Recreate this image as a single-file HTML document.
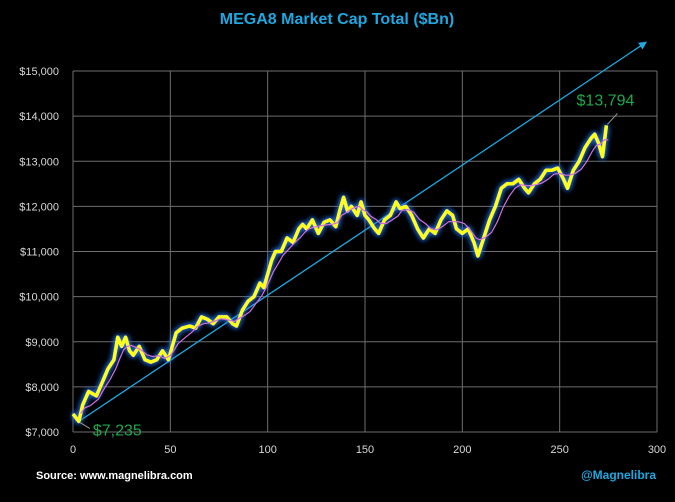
<!DOCTYPE html>
<html><head><meta charset="utf-8"><style>
body{margin:0;background:#000;width:675px;height:497px;overflow:hidden;font-family:"Liberation Sans",sans-serif}
</style></head><body>
<svg id="chart" width="675" height="497" xmlns="http://www.w3.org/2000/svg">
<defs>
<filter id="glow" x="-10%" y="-10%" width="120%" height="120%">
<feGaussianBlur in="SourceAlpha" stdDeviation="3" result="b"/>
<feFlood flood-color="#2a7bff" flood-opacity="0.95"/>
<feComposite in2="b" operator="in" result="g"/>
<feMerge><feMergeNode in="g"/><feMergeNode in="g"/><feMergeNode in="SourceGraphic"/></feMerge>
</filter>
<marker id="arrow" markerWidth="8" markerHeight="8" refX="6" refY="4" orient="auto" markerUnits="userSpaceOnUse">
<path d="M0,0 L8,4 L0,8 z" fill="#1ea7e0"/>
</marker>
</defs>
<text x="337" y="24" text-anchor="middle" fill="#1ea7e0" font-size="16" font-weight="bold">MEGA8 Market Cap Total ($Bn)</text>
<g id="grid"></g>
<g id="series"></g>
<text x="36" y="479" fill="#fff" font-size="11" font-weight="bold">Source: www.magnelibra.com</text>
<text x="656" y="479" text-anchor="end" fill="#1ea7e0" font-size="12" font-weight="bold">@Magnelibra</text>
</svg>
<script>
const xs=[0,3,5,8,12,15,18,21,23,25,27,29,31,34,37,40,43,46,49,51,53,56,60,63,66,69,72,75,79,82,84,87,90,93,96,98,100,102,104,107,110,113,116,118,120,123,126,129,132,135,137,139,141,143,146,148,150,152,155,157,160,163,166,168,171,174,177,180,183,186,189,192,195,197,200,203,206,208,211,214,217,220,223,226,229,232,234,237,240,243,246,249,252,254,257,260,263,266,268,270,272,274];
const vals=[7400,7235,7600,7900,7800,8100,8400,8600,9100,8900,9100,8800,8700,8900,8600,8550,8600,8800,8600,8900,9200,9300,9350,9300,9550,9500,9400,9550,9550,9400,9350,9700,9900,10000,10300,10200,10500,10800,11000,11000,11300,11200,11500,11600,11500,11700,11400,11650,11700,11550,11900,12200,11900,12000,11800,12100,11800,11700,11500,11400,11700,11800,12100,11950,12000,11800,11500,11300,11500,11400,11700,11900,11800,11500,11400,11500,11200,10900,11300,11700,12000,12400,12500,12500,12600,12400,12300,12500,12600,12800,12800,12850,12600,12400,12800,13000,13300,13500,13600,13400,13100,13794];
const yTicks=[7000,8000,9000,10000,11000,12000,13000,14000,15000];
const xTicks=[0,50,100,150,200,250,300];
const trendStart=[3,7235];
const trendEnd=[294,15625];
const NS="http://www.w3.org/2000/svg";
const X=v=>73+(v/300)*584;
const Y=v=>432-(v-7000)/8000*361;
const grid=document.getElementById('grid'),ser=document.getElementById('series');
function mk(tag,attrs,parent){const e=document.createElementNS(NS,tag);for(const k in attrs)e.setAttribute(k,attrs[k]);parent.appendChild(e);return e;}
yTicks.forEach(t=>{
 const l=mk('line',{x1:73,x2:657,y1:Y(t),y2:Y(t),stroke:'#6e6e6e','stroke-width':1},grid);
 
 
 const tx=mk('text',{x:59,y:Y(t)+4,'text-anchor':'end',fill:'#d8d8d8','font-size':11},grid);
 tx.textContent='$'+t.toLocaleString('en-US');
 
 
});
xTicks.forEach(t=>{
 const l=mk('line',{x1:X(t),x2:X(t),y1:71,y2:432,stroke:'#6e6e6e','stroke-width':1},grid);
 
 
 const tx=mk('text',{x:X(t),y:453,'text-anchor':'middle',fill:'#d8d8d8','font-size':11},grid);
 tx.textContent=t;
 
 
});
const tr=mk('line',{x1:X(trendStart[0]),y1:Y(trendStart[1]),x2:X(trendEnd[0]),y2:Y(trendEnd[1]),stroke:'#1ea7e0','stroke-width':1.3,'marker-end':'url(#arrow)'},ser);


const pts=xs.map((x,i)=>X(x).toFixed(1)+','+Y(vals[i]).toFixed(1)).join(' ');
const main=mk('polyline',{points:pts,fill:'none',stroke:'#ffff1a','stroke-width':3.5,'stroke-linejoin':'round',filter:'url(#glow)'},ser);


const ma=[];for(let i=1;i<xs.length;i++){let s=0,n=0;for(let j=Math.max(0,i-3);j<=Math.min(xs.length-1,i+1);j++){s+=vals[j];n++;}ma.push(X(xs[i]+1).toFixed(1)+','+Y(s/n).toFixed(1));}
const mal=mk('polyline',{points:ma.join(' '),fill:'none',stroke:'#d46ee0','stroke-width':1.2},ser);


const n=xs.length-1;
const l1=mk('line',{x1:X(xs[1])+1,y1:Y(vals[1])+1,x2:X(xs[1])+11,y2:Y(vals[1])+7,stroke:'#999','stroke-width':1},ser);


const a1=mk('text',{x:X(xs[1])+14,y:Y(vals[1])+14,fill:'#1fa84a','font-size':16},ser);
a1.textContent='$'+vals[1].toLocaleString('en-US');


const l2=mk('line',{x1:X(xs[n])+1,y1:Y(vals[n])-1,x2:X(xs[n])+11,y2:Y(vals[n])-12,stroke:'#999','stroke-width':1},ser);


const a2=mk('text',{x:X(xs[n])+28,y:Y(vals[n])-20,'text-anchor':'end',fill:'#1fa84a','font-size':16},ser);
a2.setAttribute('x',X(xs[n])+28);
a2.textContent='$'+vals[n].toLocaleString('en-US');


</script>
</body></html>
